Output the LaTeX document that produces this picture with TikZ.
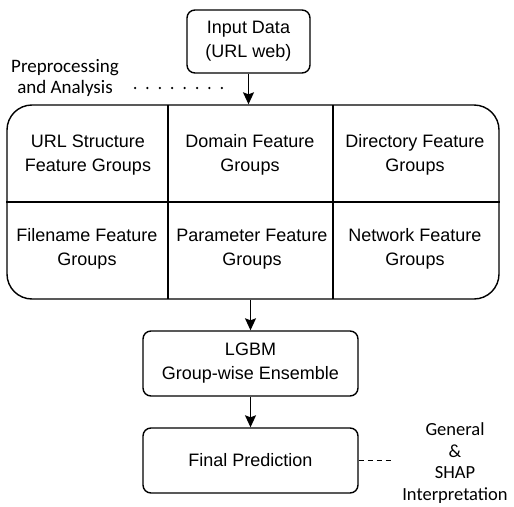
\documentclass[tikz,border=0pt]{standalone}
\usepackage{fontspec}
\setmainfont{Liberation Sans}
\newfontfamily\notefont{Carlito}
\usetikzlibrary{arrows.meta}

\tikzset{
    box/.style={draw, line width=1.4pt, rounded corners=8pt, minimum width=215pt, minimum height=65pt, align=center, font=\fontsize{18}{24}\selectfont},
    cell/.style={align=center, font=\fontsize{18}{24}\selectfont},
    note/.style={align=center, font=\notefont\fontsize{19}{21}\selectfont},
    flow/.style={-{Stealth[length=12pt, width=11pt, inset=2pt]}, line width=1.4pt},
    divider/.style={line width=1.4pt},
}

\begin{document}
\begin{tikzpicture}[x=1pt, y=-1pt]

    \useasboundingbox (0,0) rectangle (514,506);

    % 1. Input box
    \node[box, minimum width=123pt, minimum height=63pt] (input) at (248.5,41.5) {Input Data\\(URL web)};

    % 2. Feature groups box with its cells
    \node[draw, line width=1.4pt, rounded corners=25pt, minimum width=492pt, minimum height=194pt, inner sep=0pt] (features) at (253,202) {};
    \draw[divider] (168,105) -- (168,299);
    \draw[divider] (333,105) -- (333,299);
    \draw[divider] (features.west) -- (features.east);

    \node[cell] (url) at (88,155) {URL Structure\\Feature Groups};
    \node[cell] (domain) at (250,155) {Domain Feature\\Groups};
    \node[cell] (directory) at (415,155) {Directory Feature\\Groups};
    \node[cell] (filename) at (87,249) {Filename Feature\\Groups};
    \node[cell] (parameter) at (252,249) {Parameter Feature\\Groups};
    \node[cell] (network) at (415,249) {Network Feature\\Groups};

    % 3. Model and prediction boxes
    \node[box] (lgbm) at (250.5,363.5) {LGBM\\Group-wise Ensemble};
    \node[box] (final) at (250.5,460.5) {Final Prediction};

    % 4. Arrows
    \draw[flow] (input.south) -- (input.south |- features.north);
    \draw[flow] (lgbm.north |- features.south) -- (lgbm.north);
    \draw[flow] (lgbm) -- (final);

    % 5. Side notes
    \node[note] (prep) at (65,78) {Preprocessing\\and Analysis};
    \coordinate (dotend) at (222,88);
    \draw[line width=2.5pt, line cap=round, dash pattern=on 0pt off 12.4pt] (135,88) -- (dotend);

    \node[note, font=\notefont\fontsize{18.5}{21.5}\selectfont] (interp) at (455,463) {General\\\&\\SHAP\\Interpretation};
    \coordinate (dashend) at (392,460.5);
    \draw[line width=1.4pt, dash pattern=on 5pt off 4pt] (final.east) -- (dashend);

\end{tikzpicture}
\end{document}
